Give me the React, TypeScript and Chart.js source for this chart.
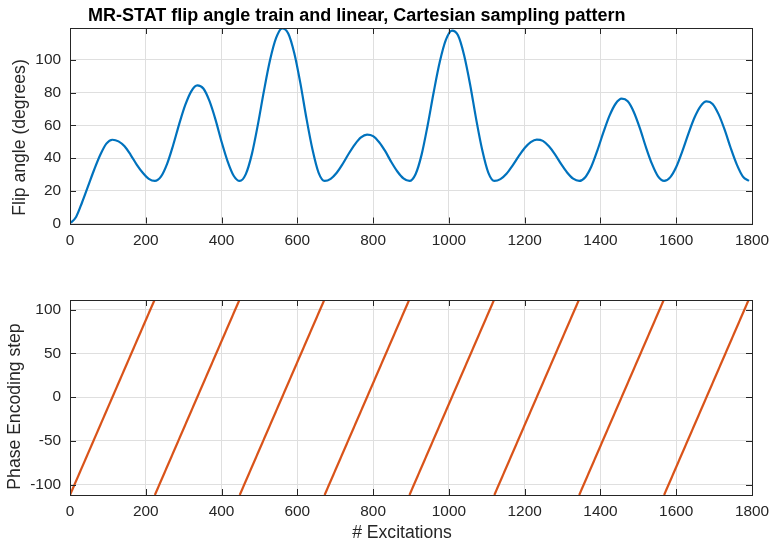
import React, { useEffect, useRef } from "react";
import { Chart, registerables } from "chart.js";

Chart.register(...registerables);

// ---------- data ----------
const flipAngleExcitation = [
  0, 16, 32, 48, 64, 80, 96, 112, 128, 144, 160, 176, 192, 208,
  224, 240, 256, 272, 288, 304, 320, 336, 352, 368, 384, 400, 416, 432,
  448, 464, 480, 496, 512, 528, 544, 560, 576, 592, 608, 624, 640, 656,
  672, 688, 704, 720, 736, 752, 768, 784, 800, 816, 832, 848, 864, 880,
  896, 912, 928, 944, 960, 976, 992, 1008, 1024, 1040, 1056, 1072, 1088, 1104,
  1120, 1136, 1152, 1168, 1184, 1200, 1216, 1232, 1248, 1264, 1280, 1296, 1312, 1328,
  1344, 1360, 1376, 1392, 1408, 1424, 1440, 1456, 1472, 1488, 1504, 1520, 1536, 1552,
  1568, 1584, 1600, 1616, 1632, 1648, 1664, 1680, 1696, 1712, 1728, 1744, 1760, 1776,
  1792,
];
const flipAngleDegrees = [
  0, 4, 13, 23, 33, 42, 48.8, 51.2, 50.2, 47.2, 42, 36, 31, 27.3,
  26, 28.6, 36.3, 47.7, 60.6, 72.3, 80.8, 84.4, 82.5, 74.9, 63.5, 50, 38, 29.2,
  26, 30.2, 42.4, 60.6, 81.2, 99.9, 113.4, 119.3, 116.2, 104.1, 85.8, 64.3, 45.2, 31.1,
  26, 27.3, 31, 36.5, 42.8, 48.4, 52.6, 54.3, 53.4, 49.7, 44.2, 37.6, 31.8, 27.6,
  26, 30.1, 42.1, 60.1, 80.4, 98.8, 112.2, 117.9, 115, 103, 85, 63.8, 44.9, 31.1,
  26, 27.1, 30.4, 35.4, 41, 46.1, 49.7, 51.3, 50.5, 47.2, 42.3, 36.4, 31.2, 27.4,
  26, 28.3, 34.8, 44.7, 55.8, 65.9, 73.2, 76.3, 74.7, 68.2, 58.3, 46.7, 36.4, 28.8,
  26, 28.2, 34.5, 44.1, 54.8, 64.6, 71.6, 74.6, 73.1, 66.7, 57.2, 46, 36, 28.7,
  26,
];
const sweepStartExcitation = [0, 224, 448, 672, 896, 1120, 1344, 1568];
const sweepEndExcitation = [223, 447, 671, 895, 1119, 1343, 1567, 1791];
const phaseStepFirst = -112;
const phaseStepLast = 111;

const xTickValues = [0, 200, 400, 600, 800, 1000, 1200, 1400, 1600, 1800];
const flipTickValues = [0, 20, 40, 60, 80, 100];
const phaseTickValues = [-100, -50, 0, 50, 100];

const titleText = "MR-STAT flip angle train and linear, Cartesian sampling pattern";
const flipLabel = "Flip angle (degrees)";
const phaseLabel = "Phase Encoding step";
const xLabel = "# Excitations";

// ---------- styling ----------
const FONT = "'Liberation Sans', Arial, Helvetica, sans-serif";
const AXIS_COLOR = "#262626";
const GRID_COLOR = "#dfdfdf";
const BLUE = "#0072BD";
const ORANGE = "#D95319";

type TextItem = {
  text: string;
  x: number;
  y: number;
  font: string;
  rotate?: boolean;
  align?: CanvasTextAlign;
};

function makeFramePlugin(xTicks: number[], yTicks: number[], texts: TextItem[]) {
  return {
    id: "matlabFrame",
    afterDatasetsDraw(chart: any) {
      const { ctx, chartArea: a, scales } = chart;
      ctx.save();
      ctx.strokeStyle = AXIS_COLOR;
      ctx.lineWidth = 1;
      const len = 6;
      ctx.beginPath();
      for (const v of xTicks) {
        const px = Math.round(scales.x.getPixelForValue(v)) + 0.5;
        ctx.moveTo(px, a.top);
        ctx.lineTo(px, a.top + len);
        ctx.moveTo(px, a.bottom);
        ctx.lineTo(px, a.bottom - len);
      }
      for (const v of yTicks) {
        const py = Math.round(scales.y.getPixelForValue(v)) + 0.5;
        ctx.moveTo(a.left, py);
        ctx.lineTo(a.left + len, py);
        ctx.moveTo(a.right, py);
        ctx.lineTo(a.right - len, py);
      }
      ctx.stroke();
      ctx.strokeRect(
        Math.round(a.left) + 0.5,
        Math.round(a.top) + 0.5,
        Math.round(a.right) - Math.round(a.left),
        Math.round(a.bottom) - Math.round(a.top)
      );
      ctx.restore();
    },
    afterDraw(chart: any) {
      const { ctx } = chart;
      for (const t of texts) {
        ctx.save();
        ctx.fillStyle = t.font.includes("bold") ? "#000" : AXIS_COLOR;
        ctx.font = t.font;
        ctx.textBaseline = "alphabetic";
        ctx.textAlign = t.align || "center";
        if (t.rotate) {
          ctx.translate(t.x, t.y);
          ctx.rotate(-Math.PI / 2);
          ctx.fillText(t.text, 0, 0);
        } else {
          ctx.fillText(t.text, t.x, t.y);
        }
        ctx.restore();
      }
    },
  };
}

function makeOptions(
  yMin: number,
  yMax: number,
  yTicks: number[],
  padTop: number,
  xAxisHeight: number
): any {
  const tickFont = { family: FONT, size: 15.4 };
  return {
    responsive: false,
    animation: false,
    events: [],
    layout: { padding: { left: 0, right: 17, top: padTop, bottom: 0 } },
    plugins: { legend: { display: false }, tooltip: { enabled: false }, title: { display: false } },
    scales: {
      x: {
        type: "linear",
        min: 0,
        max: 1800,
        afterBuildTicks: (s: any) => {
          s.ticks = xTickValues.map((v) => ({ value: v }));
        },
        afterFit: (s: any) => {
          s.height = xAxisHeight;
          s.paddingLeft = 0;
          s.paddingRight = 0;
        },
        grid: { color: GRID_COLOR, lineWidth: 1, drawTicks: false },
        border: { display: false },
        ticks: {
          color: AXIS_COLOR,
          font: tickFont,
          padding: 8,
          maxRotation: 0,
          autoSkip: false,
          callback: (v: any) => String(v),
        },
      },
      y: {
        type: "linear",
        min: yMin,
        max: yMax,
        afterBuildTicks: (s: any) => {
          s.ticks = yTicks.map((v) => ({ value: v }));
        },
        afterFit: (s: any) => {
          s.width = 70;
          s.paddingTop = 0;
          s.paddingBottom = 0;
        },
        grid: { color: GRID_COLOR, lineWidth: 1, drawTicks: false },
        border: { display: false },
        ticks: {
          color: AXIS_COLOR,
          font: tickFont,
          padding: 9,
          autoSkip: false,
          callback: (v: any) => String(v),
        },
      },
    },
  };
}

export default function App() {
  const topRef = useRef<HTMLCanvasElement>(null);
  const bottomRef = useRef<HTMLCanvasElement>(null);

  useEffect(() => {
    const flipData = flipAngleExcitation.map((x, i) => ({ x, y: flipAngleDegrees[i] }));
    const topChart = new Chart(topRef.current as HTMLCanvasElement, {
      type: "line",
      data: {
        datasets: [
          {
            data: flipData,
            borderColor: BLUE,
            borderWidth: 2.2,
            pointRadius: 0,
            fill: false,
            cubicInterpolationMode: "monotone",
          },
        ],
      },
      options: makeOptions(0, 119.5, flipTickValues, 28, 38.5),
      plugins: [
        makeFramePlugin(xTickValues, flipTickValues, [
          { text: titleText, x: 88, y: 20.5, font: `bold 18px ${FONT}`, align: "left" },
          { text: flipLabel, x: 24.5, y: 137.5, font: `17.6px ${FONT}`, rotate: true },
        ]),
      ],
    } as any);

    const sweepSets = sweepStartExcitation.map((start, i) => ({
      data: [
        { x: start, y: phaseStepFirst },
        { x: sweepEndExcitation[i], y: phaseStepLast },
      ],
      borderColor: ORANGE,
      borderWidth: 2.2,
      pointRadius: 0,
      fill: false,
    }));
    const bottomChart = new Chart(bottomRef.current as HTMLCanvasElement, {
      type: "line",
      data: { datasets: sweepSets },
      options: makeOptions(phaseStepFirst, phaseStepLast, phaseTickValues, 38, 49),
      plugins: [
        makeFramePlugin(xTickValues, phaseTickValues, [
          { text: phaseLabel, x: 19.5, y: 144.5, font: `17.6px ${FONT}`, rotate: true },
          { text: xLabel, x: 402, y: 276, font: `17.6px ${FONT}` },
        ]),
      ],
    } as any);

    return () => {
      topChart.destroy();
      bottomChart.destroy();
    };
  }, []);

  return (
    <div
      style={{
        position: "absolute",
        left: 0,
        top: 0,
        width: 769,
        height: 544,
        background: "#fff",
        overflow: "hidden",
      }}
    >
      <canvas ref={topRef} width={769} height={262} style={{ display: "block" }} />
      <canvas ref={bottomRef} width={769} height={282} style={{ display: "block" }} />
    </div>
  );
}
